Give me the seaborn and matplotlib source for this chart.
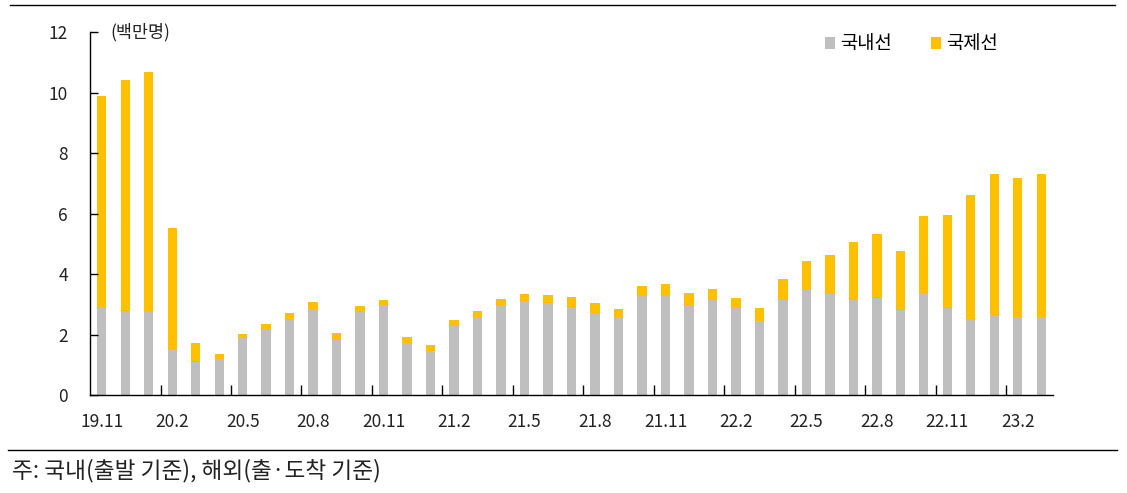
'''
Monthly air passengers, domestic vs international (stacked bars)
'''

import matplotlib
matplotlib.use('Agg')
import matplotlib.pyplot as plt
from matplotlib.lines import Line2D
import numpy as np
import pandas as pd
import seaborn as sns

GREY = '#BFBFBF'
YELLOW = '#FFC000'

months = ['19.11', '19.12', '20.1', '20.2', '20.3', '20.4', '20.5', '20.6', '20.7',
          '20.8', '20.9', '20.10', '20.11', '20.12', '21.1', '21.2', '21.3', '21.4',
          '21.5', '21.6', '21.7', '21.8', '21.9', '21.10', '21.11', '21.12', '22.1',
          '22.2', '22.3', '22.4', '22.5', '22.6', '22.7', '22.8', '22.9', '22.10',
          '22.11', '22.12', '23.1', '23.2', '23.3']

# 국내선 (백만명)
domestic = [2.90, 2.79, 2.76, 1.53, 1.09, 1.19, 1.88, 2.16, 2.49, 2.83, 1.83, 2.76,
            2.95, 1.72, 1.45, 2.29, 2.60, 2.99, 3.13, 3.04, 2.93, 2.71, 2.55, 3.29,
            3.28, 2.95, 3.15, 2.89, 2.45, 3.16, 3.48, 3.35, 3.18, 3.22, 2.82, 3.39,
            2.88, 2.51, 2.65, 2.60, 2.60]

# 국제선 (백만명)
international = [6.99, 7.63, 7.93, 3.99, 0.65, 0.17, 0.16, 0.21, 0.22, 0.24, 0.23, 0.20,
                 0.21, 0.22, 0.21, 0.19, 0.19, 0.18, 0.22, 0.27, 0.31, 0.35, 0.29, 0.33,
                 0.39, 0.42, 0.37, 0.34, 0.43, 0.67, 0.95, 1.29, 1.88, 2.12, 1.94, 2.55,
                 3.09, 4.10, 4.66, 4.58, 4.72]

df = pd.DataFrame({'month': months, 'domestic': domestic, 'international': international})
df['total'] = df['domestic'] + df['international']

plt.rcParams['font.family'] = ['Noto Sans CJK KR', 'DejaVu Sans']
plt.rcParams['axes.unicode_minus'] = False

fig = plt.figure(figsize=(11.27, 4.93), dpi=100)
ax = fig.add_axes([0.0799, 0.1982, 0.8544, 0.7363])

# stacked: draw totals in yellow, domestic in grey over it
sns.barplot(data=df, x='month', y='total', color=YELLOW, width=0.4,
            saturation=1, ax=ax, label='국제선', order=months)
sns.barplot(data=df, x='month', y='domestic', color=GREY, width=0.4,
            saturation=1, ax=ax, label='국내선', order=months)

handles, labels = ax.get_legend_handles_labels()
if ax.get_legend() is not None:
    ax.get_legend().remove()

ax.set_xlim(-0.5, 40.5)
ax.set_ylim(0, 12)
ax.set_yticks(np.arange(0, 13, 2))
ax.set_xticks(range(0, 41, 3))
ax.set_xticklabels(months[::3])
ax.set_xticks(np.arange(2.5, 40, 3), minor=True)
ax.set_xlabel('')
ax.set_ylabel('')

ax.tick_params(axis='x', which='major', length=0, pad=13, labelsize=12.5, colors='#222222')
ax.tick_params(axis='x', which='minor', length=7, direction='in', width=1)
ax.tick_params(axis='y', length=6, direction='in', width=1, pad=16, labelsize=12.5,
               colors='#222222')
ax.tick_params(axis='both', color='black')

for s in ['top', 'right']:
    ax.spines[s].set_visible(False)
for s in ['left', 'bottom']:
    ax.spines[s].set_color('black')
    ax.spines[s].set_linewidth(1)

ax.text(0.35, 12.0, '(백만명)', fontsize=12.5, va='center', ha='left', color='#222222')

# legend order: 국내선 then 국제선
order = [labels.index('국내선'), labels.index('국제선')]
fig.legend([handles[i] for i in order], [labels[i] for i in order],
           loc='center left', bbox_to_anchor=(825 / 1127, 1 - 44 / 493), ncol=2,
           frameon=False, fontsize=13.5, handlelength=0.55, handleheight=0.55,
           handletextpad=0.27, columnspacing=2.05, borderpad=0, borderaxespad=0)

# frame lines of the figure
fig.add_artist(Line2D([10 / 1127, 1115 / 1127], [0.99, 0.99], color='black', lw=1))
fig.add_artist(Line2D([8 / 1127, 1117 / 1127], [0.0872, 0.0872], color='black', lw=1))

fig.text(12 / 1127, 0.045, '주: 국내(출발 기준), 해외(출·도착 기준)', fontsize=16.3,
         va='center', ha='left', color='#222222')

fig.savefig('out.png', dpi=100)
